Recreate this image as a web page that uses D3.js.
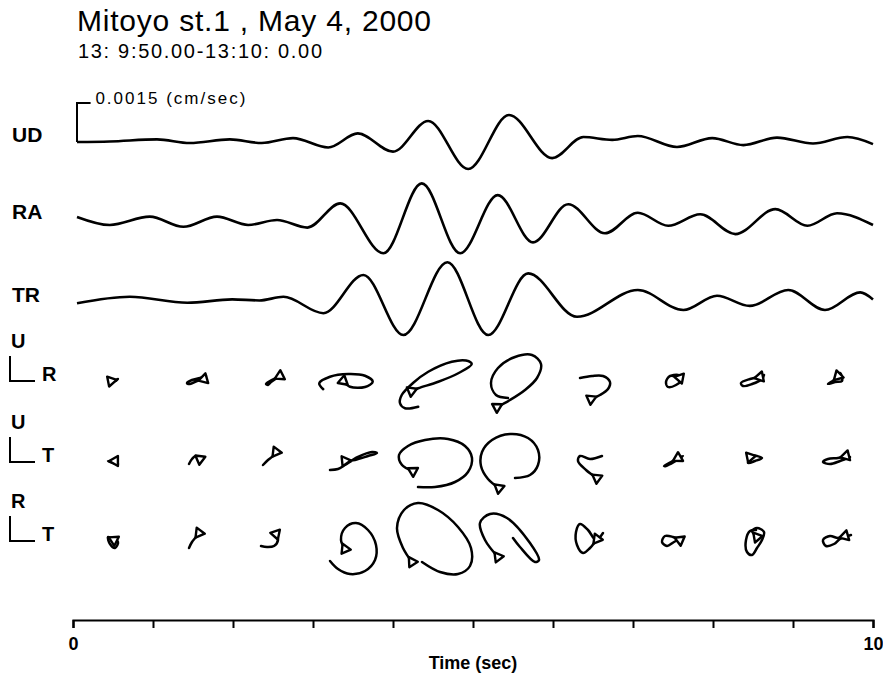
<!DOCTYPE html>
<html>
<head>
<meta charset="utf-8">
<script src="https://cdn.jsdelivr.net/npm/d3@7"></script>
<style>
  html, body { margin: 0; padding: 0; background: #fff; }
  svg { display: block; font-family: "Liberation Sans", Arial, Helvetica, sans-serif; }
</style>
</head>
<body>
<svg id="chart" width="883" height="678"></svg>
<script>
// ---- data (velocity in micrometre/sec, 15 um/s = 0.0015 cm/sec) ----
const titleText = "Mitoyo st.1 , May 4, 2000";
const subtitleText = "13: 9:50.00-13:10: 0.00";
const scaleBarValue = 15;
const scaleBarLabel = "0.0015  (cm/sec)";
const timeTicks = [0, 1, 2, 3, 4, 5, 6, 7, 8, 9, 10];
const timeTickLabels = ["0", "", "", "", "", "", "", "", "", "", "10"];
const traceNames = ["UD", "RA", "TR"];

const udTime  = [0.05, 0.46, 1.05, 1.46, 1.96, 2.36, 2.75, 3.19, 3.56, 4.0, 4.44, 4.94, 5.45, 5.99, 6.38, 6.74, 7.06, 7.55, 7.99, 8.38, 8.8, 9.25, 9.68, 10.0];
const udValue = [0, 0.2, 1.0, -0.4, 1.0, -0.4, 1.5, -2.1, 3.3, -3.7, 8.1, -10.4, 10.4, -6.2, 1.9, 0.8, 2.3, -1.9, 1.5, -1.2, 1.7, -0.6, 1.9, -0.8];

const raTime  = [0.05, 0.46, 0.96, 1.38, 1.8, 2.19, 2.55, 2.93, 3.34, 3.88, 4.36, 4.84, 5.31, 5.75, 6.19, 6.65, 7.06, 7.44, 7.84, 8.28, 8.78, 9.18, 9.55, 10.0];
const raValue = [0.8, -2.3, 0.9, -3.0, 0.9, -2.3, -0.4, -3.3, 6.0, -13.2, 13.7, -13.2, 9.2, -9.0, 5.7, -5.5, 2.4, -2.6, 1.8, -5.8, 3.8, -2.6, 2.2, -2.3];

const trTime  = [0.05, 0.71, 1.43, 1.99, 2.33, 2.63, 3.13, 3.63, 4.13, 4.68, 5.19, 5.69, 6.3, 7.06, 7.63, 8.05, 8.46, 8.94, 9.4, 9.84, 10.0];
const trValue = [-0.5, 2.0, -0.3, 1.0, 0.6, 2.0, -4.3, 10.4, -12.7, 15.3, -12.7, 11.0, -5.7, 4.6, -3.1, 2.4, -1.5, 4.6, -3.1, 3.7, 1.0];

// particle motion, one loop per 1-second window: [horizontal, vertical]
const urMotion = [
  [[-0.8,-0.4],[1.2,0],[2,0.4],[0.8,-0.4],[-0.4,0]],
  [[4.4,0.4],[1.6,-0.4],[-1.2,-1.6],[-2.4,-1.2],[-0.4,0],[2.8,0.8],[5.2,1.6]],
  [[2.8,1.6],[1.2,0.8],[-1.2,-0.4],[-2.8,-1.6],[-2,-2],[-0.8,-0.8],[1.6,0.8],[3.6,2]],
  [[-3.9,-0.4],[-1.2,-2.7],[4.8,-2.8],[7.9,-0.7],[4.8,1.7],[-1.9,2.4],[-9.2,1.3],[-13.5,-1.3],[-11.9,-3.7]],
  [[-8.6,-4.4],[-5.9,-3.3],[2.1,-0.7],[10.1,2.7],[15.5,6.4],[13.2,7.8],[7.5,7.3],[-1.9,3.3],[-8,-1.2],[-12.5,-6],[-13.2,-9.3],[-11.2,-11.3],[-5.9,-10.7]],
  [[-6.4,-10.8],[-1.2,-8],[4.8,-4],[9.6,0.8],[11.2,6.4],[7.6,10],[0.8,9.2],[-6,4.8],[-8.8,-1.2],[-6.8,-6],[-2,-7.2]],
  [[-0.8,-7.6],[2.8,-6],[6,-3.6],[6.8,-0.8],[4,1.6],[-0.4,1.6],[-5.2,0.8]],
  [[2.8,0.8],[-1.2,1.6],[-2.8,-0.8],[-2,-2.8],[1.2,-2],[3.6,0.4],[2,2],[-1.2,1.6]],
  [[2.8,1.2],[-1.2,0.4],[-4.8,-1.2],[-4,-2.4],[-0.4,-1.6],[3.6,0.4],[4.4,2]],
  [[2,1.6],[0.4,0],[-2,-1.6],[0.8,-0.8],[3.6,-0.4],[2.8,2.8],[0.8,0.8]]
];
const utMotion = [
  [[0.8,0],[-2,0],[0,-0.8],[2,-1.2]],
  [[2.8,0.8],[1.2,2],[-0.4,0.8],[-1.6,-1.2]],
  [[1.2,3.6],[0,2],[-2,0.4],[-4,-1.6]],
  [[-3.2,0],[0.8,0.4],[6,2],[9.6,3.2],[7.6,3.6],[2,1.6],[-3.2,-1.6],[-6,-3.2],[-9.2,-3.6]],
  [[-8,-4],[-12.4,-1.6],[-13.6,2.4],[-10,6],[-3.2,8.4],[6,8.8],[12.8,6],[15.6,1.2],[14,-4.4],[8.8,-8.4],[0.8,-10.4],[-6,-10.4]],
  [[-5.6,-10.8],[-10,-7.2],[-12.8,-2],[-12.4,3.6],[-8.4,8.4],[-1.2,10.8],[6,9.2],[10,4.4],[10,-1.6],[6.8,-5.6],[0.8,-6.8]],
  [[1.6,-6.8],[-2.8,-3.6],[-6,0],[-5.2,2],[-1.2,0.8],[3.6,2]],
  [[2,1.2],[-0.8,-0.4],[-3.6,-2],[-2.8,-2],[0.4,-0.4],[4,2],[2,1.2]],
  [[-1.2,1.6],[-2,-0.8],[0.8,0],[3.6,1.2],[1.6,2],[-1.2,2.4]],
  [[5.2,2],[2,1.2],[-2,0.8],[-4,-0.4],[-1.2,-1.2],[2.8,0],[6.8,1.6]]
];
const rtMotion = [
  [[0.4,0],[-2,1.2],[-1.2,-1.6],[0.8,-3.2],[2,-0.8],[-0.4,0.8]],
  [[2.4,2.8],[1.2,1.2],[-0.4,-0.8],[-1.6,-3.2]],
  [[1.2,2.4],[2,0],[0.4,-2.4],[-2.4,-2.8],[-4.8,-2.4]],
  [[-3.2,-3.6],[-4.8,0],[-3.2,4.8],[1.2,6.8],[6,4],[9.2,-2],[8.8,-8],[4.8,-12.4],[-1.2,-13.6],[-6,-11.6],[-9.2,-8.4]],
  [[-8.4,-8.8],[-12,-3.2],[-14.4,4.8],[-11.6,12],[-6,14.8],[2,12],[10,5.2],[15.2,-3.2],[14.8,-10.4],[10,-13.6],[2.8,-12.8],[-4.4,-8.8]],
  [[-6,-6.8],[-11.2,0],[-13.2,6.8],[-9.2,10.4],[-2.4,8.8],[6.8,-1.2],[10.4,-8],[8.8,-8.8],[2.8,-2.8],[0,0.8]],
  [[1.6,0.4],[-1.2,-3.2],[-4,-5.2],[-6.4,-2],[-6.8,3.2],[-5.2,6.4],[-2,4],[1.2,0],[4,2.8]],
  [[2.8,0],[0,1.2],[-3.2,1.6],[-4.4,-0.8],[-2.4,-2.4],[0.4,-0.8],[4.4,1.2]],
  [[1.6,1.2],[-0.4,3.6],[1.6,4.8],[4.4,3.2],[3.6,0],[1.6,-3.2],[-0.4,-6],[-2.4,-4.8],[-2.8,0],[-1.2,3.6],[1.2,4]],
  [[4.8,1.6],[2,0.8],[-1.2,1.6],[-4,0],[-2.8,-2.4],[0.4,-1.6],[2.8,0.4],[7.2,2]]
];
const motionRows = [
  {vert: "U", horiz: "R", loops: urMotion},
  {vert: "U", horiz: "T", loops: utMotion},
  {vert: "R", horiz: "T", loops: rtMotion}
];

// ---- layout ----
const svg = d3.select("#chart");
const traceBase = [142, 219, 302];
const motionBase = [380, 461, 540];
const axisY = 620;

const x = d3.scaleLinear().domain([0, 10]).range([73, 873]);
const amp = d3.scaleLinear().domain([0, 15]).range([0, 39]);
const hodo = d3.scaleLinear().domain([0, 10]).range([0, 25]);

// titles
svg.append("text")
  .attr("x", 77).attr("y", 31)
  .attr("font-size", 30)
  .attr("textLength", 354).attr("lengthAdjust", "spacing")
  .text(titleText);

svg.append("text")
  .attr("x", 78).attr("y", 58)
  .attr("font-size", 20)
  .attr("textLength", 244).attr("lengthAdjust", "spacing")
  .text(subtitleText);

// waveforms
const traces = [
  {time: udTime, value: udValue},
  {time: raTime, value: raValue},
  {time: trTime, value: trValue}
];

traces.forEach((tr, i) => {
  const base = traceBase[i];
  const line = d3.line()
    .x((d, j) => x(tr.time[j]))
    .y(d => base - amp(d))
    .curve(d3.curveMonotoneX);

  svg.append("path")
    .attr("d", line(tr.value))
    .attr("fill", "none")
    .attr("stroke", "#000")
    .attr("stroke-width", 2.6)
    .attr("stroke-linejoin", "round");

  svg.append("text")
    .attr("x", 12).attr("y", base)
    .attr("font-size", 21)
    .attr("font-weight", "bold")
    .text(traceNames[i]);
});

// amplitude scale bar on the UD trace
const barX = x(udTime[0]);
svg.append("path")
  .attr("d", `M${barX},${traceBase[0]}V${traceBase[0] - amp(scaleBarValue)}H${x(0.22)}`)
  .attr("fill", "none")
  .attr("stroke", "#000")
  .attr("stroke-width", 2);

svg.append("text")
  .attr("x", x(0.28)).attr("y", traceBase[0] - amp(scaleBarValue) + 1)
  .attr("font-size", 17)
  .attr("textLength", 150).attr("lengthAdjust", "spacing")
  .text(scaleBarLabel);

// particle motion rows
const motionLine = d3.line()
  .x(d => d[0])
  .y(d => d[1])
  .curve(d3.curveCatmullRom.alpha(0.5));

motionRows.forEach((row, r) => {
  const base = motionBase[r];

  svg.append("text")
    .attr("x", 11).attr("y", base - 32)
    .attr("font-size", 20).attr("font-weight", "bold")
    .text(row.vert);
  svg.append("path")
    .attr("d", `M10,${base - 24}V${base + 1}H35`)
    .attr("fill", "none").attr("stroke", "#000").attr("stroke-width", 2);
  svg.append("text")
    .attr("x", 42).attr("y", base + 1)
    .attr("font-size", 20).attr("font-weight", "bold")
    .text(row.horiz);

  row.loops.forEach((loop, k) => {
    const cx = x(k + 0.5);
    const pts = loop.map(p => [cx + hodo(p[0]), base - hodo(p[1])]);
    svg.append("path")
      .attr("d", motionLine(pts))
      .attr("fill", "none")
      .attr("stroke", "#000")
      .attr("stroke-width", 2.5)
      .attr("stroke-linejoin", "round")
      .attr("stroke-linecap", "round");

    const ang = Math.atan2(pts[1][1] - pts[0][1], pts[1][0] - pts[0][0]) * 180 / Math.PI + 90;
    svg.append("path")
      .attr("d", d3.symbol().type(d3.symbolTriangle).size(44)())
      .attr("transform", `translate(${pts[0][0]},${pts[0][1]}) rotate(${ang})`)
      .attr("fill", "#fff")
      .attr("stroke", "#000")
      .attr("stroke-width", 2.4)
      .attr("stroke-linejoin", "round");
  });
});

// time axis
const axis = d3.axisBottom(x)
  .tickValues(timeTicks)
  .tickSize(8)
  .tickSizeOuter(8)
  .tickPadding(9)
  .tickFormat((d, i) => timeTickLabels[i]);

const gAxis = svg.append("g")
  .attr("transform", `translate(0,${axisY})`)
  .call(axis);
gAxis.select(".domain").attr("stroke-width", 2.2);
gAxis.selectAll(".tick line").attr("stroke-width", 2);
gAxis.selectAll(".tick text")
  .attr("font-size", 18)
  .attr("font-weight", "bold")
  .attr("font-family", "\"Liberation Sans\", Arial, sans-serif")
  .attr("fill", "#000");

svg.append("text")
  .attr("x", x(5)).attr("y", 669)
  .attr("text-anchor", "middle")
  .attr("font-size", 18)
  .attr("font-weight", "bold")
  .text("Time (sec)");
</script>
</body>
</html>
